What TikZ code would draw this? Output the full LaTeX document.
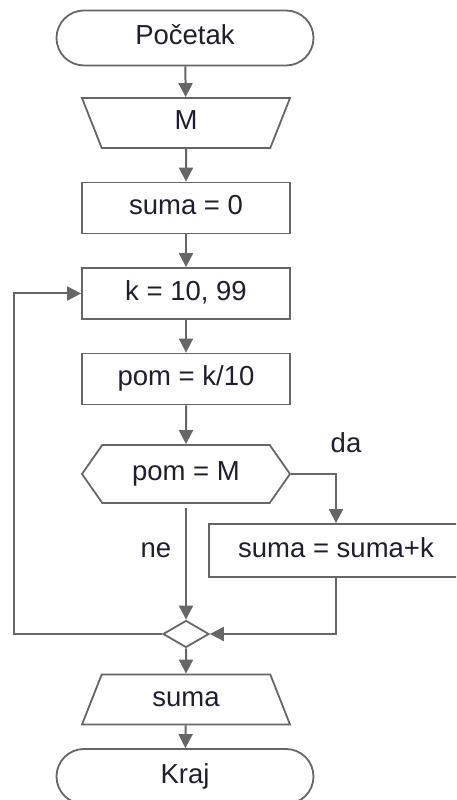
\documentclass[tikz,border=0pt]{standalone}
\usepackage{fontspec}
\setmainfont{Liberation Sans}
\usetikzlibrary{shapes.geometric,shapes.misc,shapes.symbols,arrows.meta}
\definecolor{linija}{HTML}{666666}
\definecolor{tekst}{HTML}{1E1E2E}
\begin{document}
\begin{tikzpicture}[x=1pt,y=1pt,
    every node/.style={font=\fontsize{27.5}{33}\selectfont, text=tekst},
    blok/.style={draw=linija, line width=1.8pt, fill=white, inner sep=0pt,
      text height=19pt, text depth=5pt},
    terminal/.style={blok, rounded rectangle, minimum width=257pt, minimum height=55pt},
    ulaz/.style={blok, trapezium, trapezium left angle=50.6, trapezium right angle=50.6,
      trapezium stretches body, minimum width=208pt, minimum height=50pt},
    naredba/.style={blok, rectangle, minimum width=208pt, minimum height=51pt},
    veza/.style={draw=linija, line width=2pt},
    strelica/.style={veza, -{Triangle[length=14pt,width=14pt]}}]
  \useasboundingbox (0,0) rectangle (456,800);
  \clip (0,0) rectangle (456,800);
  % blokovi
  \node[terminal] (pocetak) at (185,762) {Početak};
  \node[ulaz, shape border rotate=180] (unos) at (186,677) {M};
  \node[naredba] (nula) at (186,592) {suma = 0};
  \node[naredba] (petlja) at (186,506.5) {k = 10, 99};
  \node[naredba] (pom) at (186,421) {pom = k/10};
  \node[blok, signal, signal to=west and east, signal pointer angle=110,
    minimum width=208pt, minimum height=58pt] (uslov) at (186,326) {pom = M};
  \node[naredba, minimum width=254pt, minimum height=53pt] (uvecaj) at (336,249.5) {suma = suma+k};
  \node[blok, diamond, aspect=1.7, minimum width=46pt, minimum height=27pt] (spoj) at (186,166) {};
  \node[ulaz] (ispis) at (186,100.5) {suma};
  \node[terminal] (kraj) at (185,23.5) {Kraj};
  % oznake
  \node (da) at (346,357) {da};
  \node (ne) at (156,250) {ne};
  \coordinate (lijevo) at (14,166);
  % veze
  \draw[strelica] (pocetak) -- (unos);
  \draw[strelica] (unos) -- (nula);
  \draw[strelica] (nula) -- (petlja);
  \draw[strelica] (petlja) -- (pom);
  \draw[strelica] (pom) -- (uslov);
  \draw[strelica] (uslov.east) -| (uvecaj.north);
  \draw[strelica, shorten <=4pt] (uslov.south) -- (spoj.north);
  \draw[strelica] (uvecaj.south) |- (spoj.east);
  \draw[strelica] (spoj.west) -- (lijevo) |- (petlja.west);
  \draw[strelica] (spoj) -- (ispis);
  \draw[strelica] (ispis) -- (kraj);
\end{tikzpicture}
\end{document}
